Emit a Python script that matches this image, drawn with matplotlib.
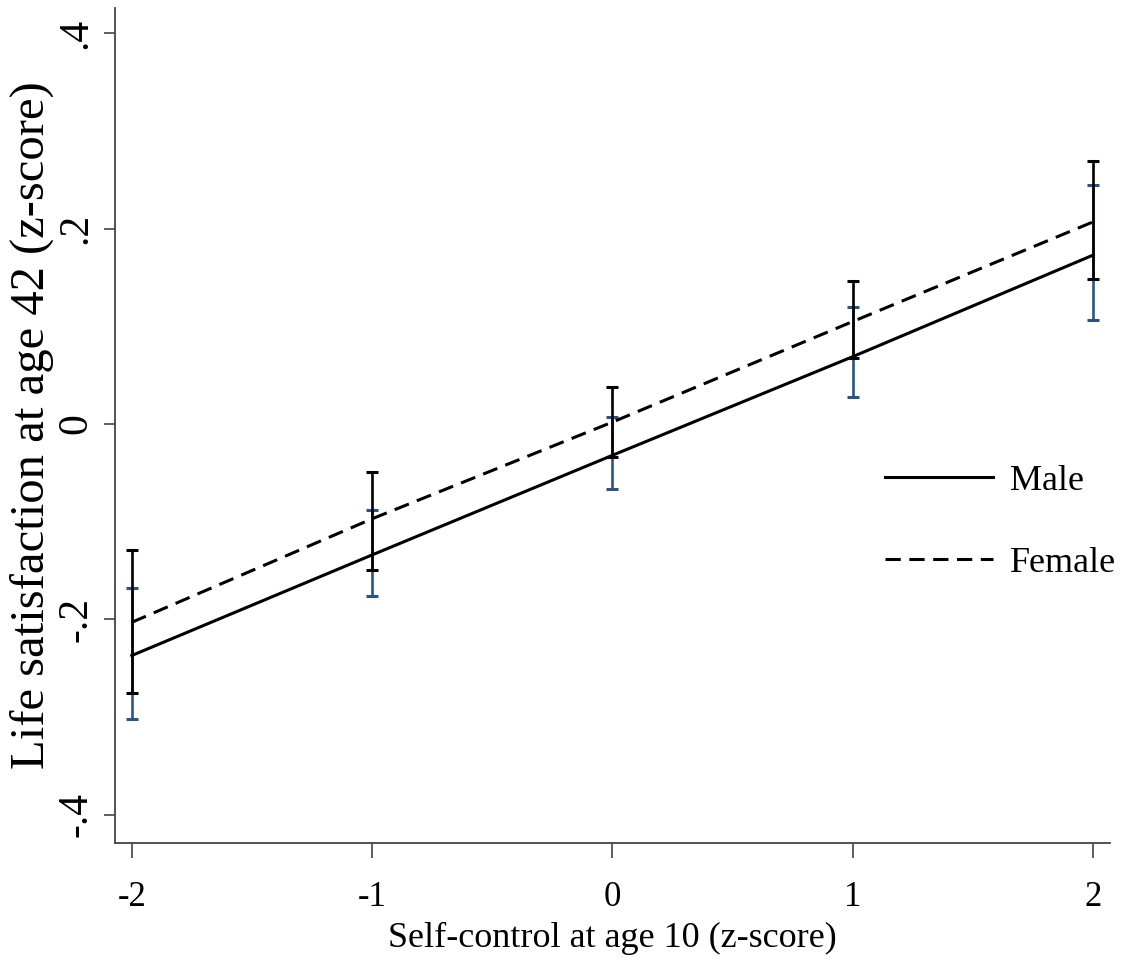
import matplotlib
matplotlib.use("Agg")
import matplotlib.pyplot as plt
import numpy as np

plt.rcParams['font.family'] = ['Liberation Serif', 'DejaVu Serif']

# self-control at age 10 (z-score)
sc = [-2, -1, 0, 1, 2]

# predicted life satisfaction at 42 with 95% CI
male = [-0.237, -0.134, -0.032, 0.069, 0.173]
male_lo = [-0.302, -0.176, -0.066, 0.028, 0.107]
male_hi = [-0.168, -0.088, 0.007, 0.120, 0.245]

female = [-0.203, -0.097, 0.002, 0.105, 0.207]
female_lo = [-0.275, -0.149, -0.034, 0.068, 0.149]
female_hi = [-0.129, -0.049, 0.038, 0.146, 0.269]

yticks = [-0.4, -0.2, 0, 0.2, 0.4]
ytick_labels = ['-.4', '-.2', '0', '.2', '.4']

fig = plt.figure(figsize=(11.24, 9.64), dpi=100)
ax = fig.add_axes([0.1023, 0.1255, 0.8852, 0.8662])

m = np.array(male)
f = np.array(female)
m_err = [m - np.array(male_lo), np.array(male_hi) - m]
f_err = [f - np.array(female_lo), np.array(female_hi) - f]

ax.errorbar(sc, male, yerr=m_err, fmt='none', ecolor='#2a5582',
            elinewidth=1.9, capsize=4.5, capthick=2.2, zorder=2)
ax.errorbar(sc, female, yerr=f_err, fmt='none', ecolor='black',
            elinewidth=1.9, capsize=4.5, capthick=2.2, zorder=3)

ax.plot(sc, male, color='black', lw=2.2, label='Male', zorder=4)
ax.plot(sc, female, color='black', lw=2.2, dashes=(5.0, 2.8),
        label='Female', zorder=4)

ax.set_xlim(-2.07, 2.07)
ax.set_ylim(-0.429, 0.426)

ax.set_xticks(sc)
ax.set_xticklabels([str(v) for v in sc])
ax.set_yticks(yticks)
ax.set_yticklabels(ytick_labels, rotation=90, va='center')

ax.tick_params(axis='x', length=11, width=1.1, color='#333333',
               labelsize=25, pad=16)
ax.tick_params(axis='y', length=8, width=1.1, color='#333333',
               labelsize=30, pad=6)

for s in ['top', 'right']:
    ax.spines[s].set_visible(False)
for s in ['left', 'bottom']:
    ax.spines[s].set_color('#444444')
    ax.spines[s].set_linewidth(1.3)

ax.set_xlabel('Self-control at age 10 (z-score)', fontsize=26, labelpad=6)
ax.set_ylabel('Life satisfaction at age 42 (z-score)', fontsize=35,
              labelpad=2)

ax.legend(loc='center left', bbox_to_anchor=(0.774, 0.384), frameon=False,
          fontsize=26, handlelength=3.0, handletextpad=0.45,
          labelspacing=1.35, borderpad=0, borderaxespad=0)

fig.savefig('out.png', dpi=100, facecolor='white')
